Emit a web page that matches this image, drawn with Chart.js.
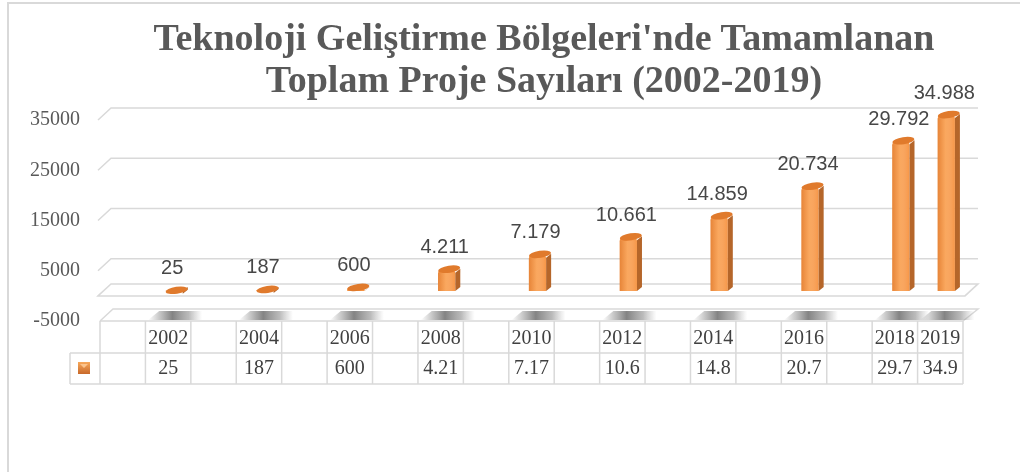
<!DOCTYPE html>
<html>
<head>
<meta charset="utf-8">
<script src="https://cdn.jsdelivr.net/npm/chart.js@4"></script>
<style>
  body { margin: 0; background: #fff; overflow: hidden; }
  #wrap { position: relative; width: 1020px; height: 472px; }
  #frame { position: absolute; left: 7px; top: 2px; width: 1040px; height: 500px; border: 2px solid #d9d9d9; box-sizing: border-box; }
  #title {
    position: absolute; left: 60px; top: 16px; width: 968px;
    text-align: center; font-family: 'Liberation Serif', serif; font-weight: bold;
    font-size: 38px; line-height: 42px; color: #595959;
  }
  canvas { position: absolute; left: 0; top: 0; }
</style>
</head>
<body>
<div id="wrap">
  <div id="frame"></div>
  <canvas id="chart" width="1020" height="472"></canvas>
  <div id="title">Teknoloji Geliştirme Bölgeleri'nde Tamamlanan<br>Toplam Proje Sayıları (2002-2019)</div>
</div>
<script>
// categories (blank columns between the years, as in the source table)
const years = ['', '2002', '', '2004', '', '2006', '', '2008', '', '2010', '', '2012', '', '2014', '', '2016', '', '2018', '2019']
const projects = [null, 25, null, 187, null, 600, null, 4211, null, 7179, null, 10661, null, 14859, null, 20734, null, 29792, 34988]
// values as printed in the data table row
const tableValues = ['', '25', '', '187', '', '600', '', '4.21', '', '7.17', '', '10.6', '', '14.8', '', '20.7', '', '29.7', '34.9']
const yTicks = { min: -5000, max: 35000, step: 10000 }

const DX = 13, DY = 12          // 3D depth of the walls
const BX = 6, BY = 5            // bars sit half way into the depth
const gridColor = '#d9d9d9'

function trNumber(v) {
  return String(v).replace(/\B(?=(\d{3})+(?!\d))/g, '.')
}

function line(ctx, pts) {
  ctx.beginPath()
  ctx.moveTo(pts[0][0], pts[0][1])
  for (let i = 1; i < pts.length; i++) ctx.lineTo(pts[i][0], pts[i][1])
  ctx.stroke()
}

const chart3d = {
  id: 'chart3d',
  beforeDatasetsDraw(chart) {
    const { ctx, chartArea: a, scales: { x, y } } = chart
    const L = a.left, R = a.right
    ctx.save()
    ctx.strokeStyle = gridColor
    ctx.lineWidth = 1.5

    // gridlines on back and side walls
    y.ticks.forEach(t => {
      if (t.value <= 0) return
      const py = y.getPixelForValue(t.value)
      line(ctx, [[L - 2, py], [L - 2 + DX, py - DY], [R + DX + 2, py - DY]])
    })

    // bottom plane at the axis minimum
    const pm = y.getPixelForValue(yTicks.min)
    line(ctx, [[L, pm], [L + DX, pm - DY], [R + DX + 2, pm - DY], [R, pm]])

    // shadows of the bars on the bottom plane
    const meta = chart.getDatasetMeta(0)
    meta.data.forEach((el, i) => {
      if (projects[i] == null) return
      const cx = el.x + BX
      const x0 = cx - 26, x1 = cx + 28
      const g = ctx.createLinearGradient(x0, 0, x1, 0)
      g.addColorStop(0, 'rgba(120,120,120,0)')
      g.addColorStop(0.45, 'rgba(110,110,110,0.85)')
      g.addColorStop(0.75, 'rgba(140,140,140,0.6)')
      g.addColorStop(1, 'rgba(160,160,160,0)')
      ctx.fillStyle = g
      ctx.beginPath()
      ctx.moveTo(x0, pm - 1)
      ctx.lineTo(x0 + DX - 2, pm - DY + 2)
      ctx.lineTo(x1 + DX - 2, pm - DY + 2)
      ctx.lineTo(x1, pm - 1)
      ctx.closePath()
      ctx.fill()
    })

    // floor slab at zero
    const p0 = y.getPixelForValue(0)
    ctx.fillStyle = '#fff'
    ctx.beginPath()
    ctx.moveTo(L - 2, p0)
    ctx.lineTo(L - 2 + DX, p0 - DY)
    ctx.lineTo(R + DX + 2, p0 - DY)
    ctx.lineTo(R + 2, p0)
    ctx.closePath()
    ctx.fill()
    ctx.stroke()

    // data table under the plot
    const cw = a.width / years.length
    const r0 = pm, r1 = pm + 32, r2 = pm + 63
    const keyL = L - 30
    line(ctx, [[L, r0], [R, r0]])
    line(ctx, [[keyL, r1], [R, r1]])
    line(ctx, [[keyL, r2], [R, r2]])
    line(ctx, [[keyL, r1], [keyL, r2]])
    line(ctx, [[L, r0], [L, r2]])
    years.forEach((yr, i) => {
      const xr = x.getPixelForValue(i) + cw / 2
      line(ctx, [[xr, r0], [xr, r2]])
    })
    ctx.fillStyle = '#404040'
    ctx.font = '20px "Liberation Serif", serif'
    ctx.textAlign = 'center'
    ctx.textBaseline = 'middle'
    years.forEach((yr, i) => {
      const cx = x.getPixelForValue(i)
      if (yr) ctx.fillText(yr, cx, r0 + 18)
      if (tableValues[i]) ctx.fillText(tableValues[i], cx, r1 + 16)
    })
    // legend key
    const kx = keyL + 8, ky = r1 + 9
    const kg = ctx.createLinearGradient(0, ky, 0, ky + 12)
    kg.addColorStop(0, '#f7a85a')
    kg.addColorStop(1, '#c8692a')
    ctx.fillStyle = kg
    ctx.fillRect(kx, ky, 12, 12)
    ctx.fillStyle = '#fbc48c'
    ctx.beginPath()
    ctx.moveTo(kx + 2, ky + 2)
    ctx.lineTo(kx + 6, ky + 6)
    ctx.lineTo(kx + 10, ky + 2)
    ctx.closePath()
    ctx.fill()
    ctx.restore()

    // bars are pushed into the depth
    ctx.save()
    ctx.translate(BX, -BY)
  },
  afterDatasetsDraw(chart) {
    const { ctx, scales: { y } } = chart
    const meta = chart.getDatasetMeta(0)
    const d = 5
    meta.data.forEach((el, i) => {
      if (projects[i] == null) return
      const xr = el.x + el.width / 2
      const xl = el.x - el.width / 2
      // light stripe on the front face
      if (el.base - el.y > 4) {
        const g = ctx.createLinearGradient(xl, 0, xr, 0)
        g.addColorStop(0, 'rgba(200,100,30,0.35)')
        g.addColorStop(0.45, 'rgba(255,200,140,0.35)')
        g.addColorStop(1, 'rgba(255,255,255,0)')
        ctx.fillStyle = g
        ctx.fillRect(xl, el.y + 3, el.width, el.base - el.y - 3)
      }
      // side face
      ctx.fillStyle = '#b5662a'
      ctx.beginPath()
      ctx.moveTo(xr, el.y + 3)
      ctx.lineTo(xr + d, el.y - d + 4)
      ctx.lineTo(xr + d, el.base - d + 1)
      ctx.lineTo(xr, el.base)
      ctx.closePath()
      ctx.fill()
      // top cap
      ctx.fillStyle = '#e07a2c'
      ctx.beginPath()
      ctx.ellipse(el.x + d / 2, el.y - d / 2 + 2, el.width / 2 + d / 2, 3.5, -0.15, 0, Math.PI * 2)
      ctx.fill()
    })
    ctx.restore()

    // value labels
    ctx.save()
    ctx.fillStyle = '#474747'
    ctx.font = '20px "Liberation Sans", sans-serif'
    ctx.textAlign = 'center'
    ctx.textBaseline = 'middle'
    meta.data.forEach((el, i) => {
      if (projects[i] == null) return
      ctx.fillText(trNumber(projects[i]), el.x + 4, y.getPixelForValue(projects[i]) - 27)
    })
    ctx.restore()
  }
}

const ctx = document.getElementById('chart').getContext('2d')
new Chart(ctx, {
  type: 'bar',
  data: {
    labels: years,
    datasets: [{
      data: projects,
      backgroundColor: '#f79646',
      borderWidth: 0,
      borderRadius: { topLeft: 4, topRight: 4 },
      borderSkipped: 'start',
      barPercentage: 0.38,
      categoryPercentage: 1,
      clip: false
    }]
  },
  options: {
    responsive: false,
    animation: false,
    layout: { padding: { left: 8, top: 120, right: 57, bottom: 151 } },
    plugins: { legend: { display: false }, title: { display: false }, tooltip: { enabled: false } },
    scales: {
      x: { display: false, offset: true },
      y: {
        min: yTicks.min,
        max: yTicks.max,
        afterFit(s) { s.width = 92 },
        ticks: {
          stepSize: yTicks.step,
          color: '#595959',
          padding: 20,
          font: { family: '"Liberation Serif", serif', size: 20 },
          callback: v => String(v)
        },
        grid: { display: false, drawTicks: false },
        border: { display: false }
      }
    }
  },
  plugins: [chart3d]
})
</script>
</body>
</html>
